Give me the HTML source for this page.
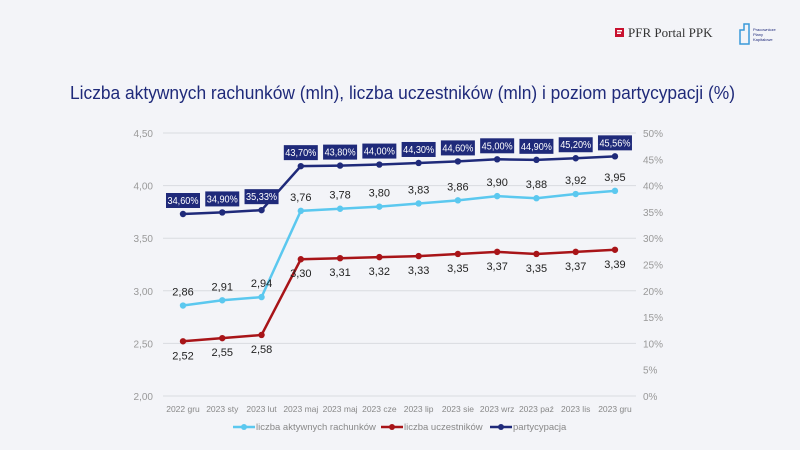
<!DOCTYPE html>
<html><head><meta charset="utf-8"><style>
html,body{margin:0;padding:0;background:#f3f4f8;}
svg{display:block;font-family:"Liberation Sans",sans-serif;}
</style></head><body>
<svg id="s" width="800" height="450" viewBox="0 0 800 450" xmlns="http://www.w3.org/2000/svg">
<rect width="800" height="450" fill="#f3f4f8"/>
<rect x="615" y="28" width="9" height="9" fill="#c8102e"/>
<rect x="617" y="30" width="5" height="1.5" fill="#fff"/><rect x="617" y="32.5" width="4" height="1.5" fill="#fff"/>
<text x="628" y="37" font-family="Liberation Serif,serif" font-size="13" fill="#333">PFR Portal PPK</text>
<path d="M740 44 V30 h4 V24 h5 v20 Z" fill="none" stroke="#3a9ad9" stroke-width="1.5"/>
<text x="753" y="31" font-size="4" fill="#1f2a7a">Pracownicze</text>
<text x="753" y="36" font-size="4" fill="#1f2a7a">Plany</text>
<text x="753" y="41" font-size="4" fill="#1f2a7a">Kapitałowe</text>
<text x="70" y="99" font-size="18" fill="#1f2a7a" textLength="665" lengthAdjust="spacingAndGlyphs">Liczba aktywnych rachunków (mln), liczba uczestników (mln) i poziom partycypacji (%)</text>
<g id="g"></g>
</svg>
<script>
var g=document.getElementById('g'),h='';
var X=function(i){return 183+i*39.27;}, YL=function(v){return 396-(v-2)*105.2;}, YR=function(p){return 396-p*5.26;};
for(var k=0;k<=5;k++){var y=396-k*52.6;
h+='<line x1="163" x2="636" y1="'+y+'" y2="'+y+'" stroke="#d9dbe0" stroke-width="1"/>';
h+='<text x="153" y="'+(y+4)+'" font-size="10" fill="#999" text-anchor="end">'+(2+k*0.5).toFixed(2).replace('.',',')+'</text>';}
for(var k=0;k<=10;k++){var y=396-k*26.3;h+='<text x="643" y="'+(y+4)+'" font-size="10" fill="#999">'+(k*5)+'%</text>';}
var labs=['2022 gru','2023 sty','2023 lut','2023 maj','2023 maj','2023 cze','2023 lip','2023 sie','2023 wrz','2023 paź','2023 lis','2023 gru'];
labs.forEach(function(l,i){h+='<text x="'+X(i)+'" y="412" font-size="8.5" fill="#888" text-anchor="middle">'+l+'</text>';});
var a=[2.86,2.91,2.94,3.76,3.78,3.80,3.83,3.86,3.90,3.88,3.92,3.95];
var u=[2.52,2.55,2.58,3.30,3.31,3.32,3.33,3.35,3.37,3.35,3.37,3.39];
var p=[34.60,34.90,35.33,43.70,43.80,44.00,44.30,44.60,45.00,44.90,45.20,45.56];
function line(d,f,c){var s='<polyline fill="none" stroke="'+c+'" stroke-width="2.5" points="'+d.map(function(v,i){return X(i)+','+f(v);}).join(' ')+'"/>';
d.forEach(function(v,i){s+='<circle cx="'+X(i)+'" cy="'+f(v)+'" r="3.2" fill="'+c+'"/>';});return s;}
h+=line(a,YL,'#5bc8ef')+line(u,YL,'#a81418')+line(p,YR,'#1f2a7a');
var fmt=function(v){return v.toFixed(2).replace('.',',');};
a.forEach(function(v,i){h+='<text x="'+X(i)+'" y="'+(YL(v)-10)+'" font-size="11" fill="#222" text-anchor="middle">'+fmt(v)+'</text>';});
u.forEach(function(v,i){h+='<text x="'+X(i)+'" y="'+(YL(v)+18)+'" font-size="11" fill="#222" text-anchor="middle">'+fmt(v)+'</text>';});
p.forEach(function(v,i){var y=YR(v)-21;h+='<rect x="'+(X(i)-17)+'" y="'+y+'" width="34" height="15" fill="#1f2a7a"/><text x="'+X(i)+'" y="'+(y+11)+'" font-size="10" fill="#fff" text-anchor="middle" textLength="31" lengthAdjust="spacingAndGlyphs">'+fmt(v)+'%</text>';});
function leg(x,c,t){return '<line x1="'+x+'" x2="'+(x+22)+'" y1="427" y2="427" stroke="'+c+'" stroke-width="2.5"/><circle cx="'+(x+11)+'" cy="427" r="3" fill="'+c+'"/><text x="'+(x+23)+'" y="430" font-size="9.5" fill="#888">'+t+'</text>';}
h+=leg(233,'#5bc8ef','liczba aktywnych rachunków')+leg(381,'#a81418','liczba uczestników')+leg(490,'#1f2a7a','partycypacja');
g.innerHTML=h;
</script>
</body></html>
